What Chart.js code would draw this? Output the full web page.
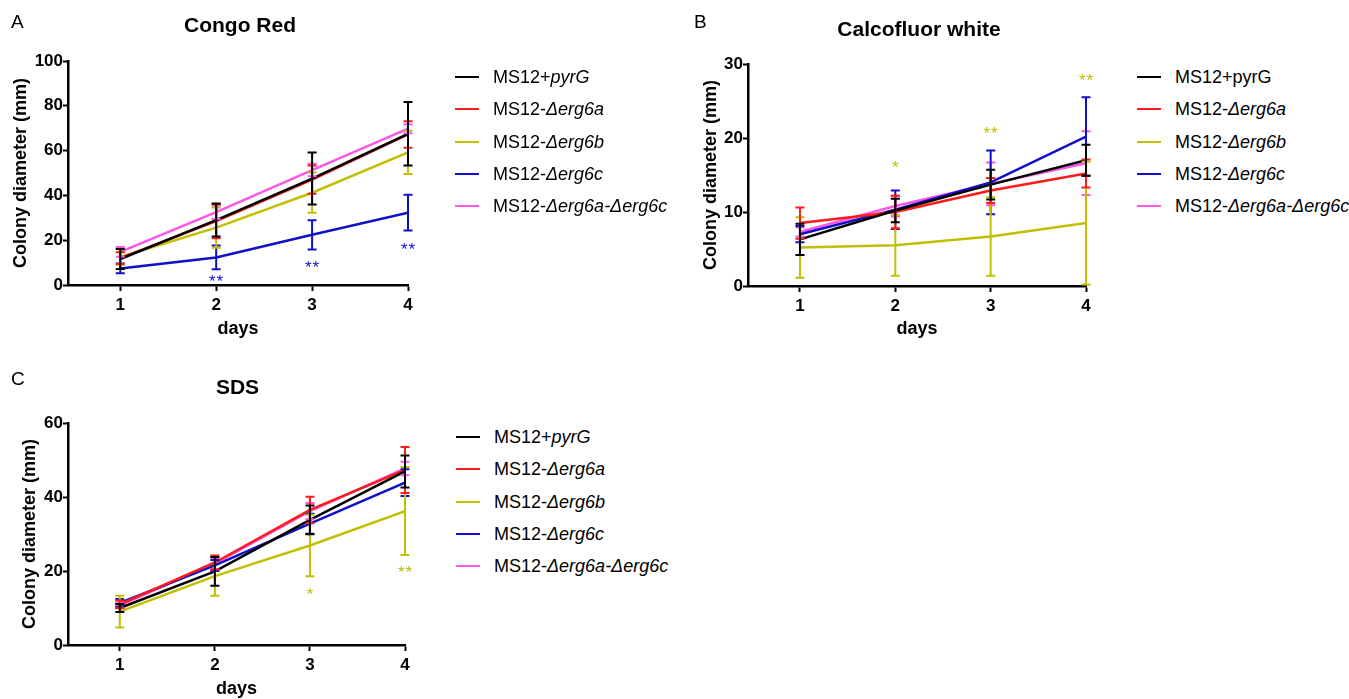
<!DOCTYPE html>
<html><head><meta charset="utf-8">
<script src="https://cdn.jsdelivr.net/npm/chart.js@4.4.1/dist/chart.umd.min.js"></script>
<style>
html,body{margin:0;padding:0;background:#fff;width:1349px;height:699px;overflow:hidden;position:relative;font-family:"Liberation Sans",Arial,sans-serif;}
canvas{position:absolute;}
.legend{position:absolute;width:240px;height:170px;}
.row{position:absolute;left:0;height:22px;line-height:22px;white-space:nowrap;font-size:18px;color:#000;}
.sw{position:absolute;left:0;top:10px;width:24px;height:2px;}
.txt{position:absolute;left:38px;top:0;}
</style></head><body>
<canvas id="cA" width="440" height="340" style="left:0;top:0"></canvas>
<canvas id="cB" width="440" height="340" style="left:680px;top:0"></canvas>
<canvas id="cC" width="440" height="330" style="left:0;top:370px"></canvas>
<div class="legend" id="lA" style="left:455px;top:66px"></div>
<div class="legend" id="lB" style="left:1137px;top:66px"></div>
<div class="legend" id="lC" style="left:456px;top:426px"></div>
<script>
// ---------- data ----------
const days = [1, 2, 3, 4];
const seriesColors = ['#000000', '#ff1a1a', '#c0c000', '#1010c8', '#ff55e6'];
const legendPrefixAC = ['MS12+', 'MS12-', 'MS12-', 'MS12-', 'MS12-'];
const legendItalicAC = ['pyrG', 'Δerg6a', 'Δerg6b', 'Δerg6c', 'Δerg6a-Δerg6c'];
const legendPrefixB = ['MS12+pyrG', 'MS12-', 'MS12-', 'MS12-', 'MS12-'];
const legendItalicB = ['', 'Δerg6a', 'Δerg6b', 'Δerg6c', 'Δerg6a-Δerg6c'];

// Congo Red
const crPyrG = [11.6, 29.0, 47.5, 67.5];  const crPyrGErr = [4.5, 7.4, 11.6, 14.2];
const crA    = [12.0, 28.5, 47.0, 67.2];  const crAErr    = [2.6, 7.6, 6.3, 5.9];
const crB    = [12.5, 25.6, 41.2, 59.2];  const crBErr    = [3.5, 9.0, 9.0, 9.7];
const crC    = [7.4, 12.3, 22.4, 32.3];   const crCErr    = [2.2, 5.3, 6.5, 8.0];
const crAC   = [14.8, 32.5, 51.3, 69.8];  const crACErr   = [2.2, 3.0, 2.8, 2.0];
const crSigDays = [2, 3, 4]; const crSigValues = [3.4, 9.7, 17.9]; const crSigText = ['**', '**', '**']; const crSigSeries = 3;

// Calcofluor white
const cwPyrG = [6.3, 10.2, 13.7, 17.0];   const cwPyrGErr = [2.1, 1.6, 2.0, 2.1];
const cwA    = [8.5, 10.0, 12.9, 15.2];   const cwAErr    = [2.1, 2.2, 1.7, 1.9];
const cwB    = [5.2, 5.5, 6.7, 8.5];      const cwBErr    = [4.1, 4.1, 5.3, 8.3];
const cwC    = [7.0, 10.3, 14.0, 20.2];   const cwCErr    = [1.1, 2.6, 4.3, 5.3];
const cwAC   = [7.3, 10.8, 13.8, 16.6];   const cwACErr   = [0.6, 1.4, 2.9, 4.3];
const cwSigDays = [2, 3, 4]; const cwSigValues = [16.6, 21.2, 28.3]; const cwSigText = ['*', '**', '**']; const cwSigSeries = 2;

// SDS
const sdsPyrG = [10.0, 19.9, 33.8, 46.9]; const sdsPyrGErr = [1.1, 3.9, 3.9, 4.3];
const sdsA    = [11.0, 22.3, 36.5, 47.3]; const sdsAErr    = [1.0, 1.9, 3.6, 6.2];
const sdsB    = [9.0, 18.6, 26.9, 36.2];  const sdsBErr    = [4.3, 5.3, 8.3, 11.9];
const sdsC    = [11.4, 21.5, 32.8, 43.9]; const sdsCErr    = [1.0, 1.5, 2.7, 3.6];
const sdsAC   = [10.7, 22.0, 36.2, 47.7]; const sdsACErr   = [0.8, 1.5, 2.2, 1.8];
const sdsSigDays = [3, 4]; const sdsSigValues = [14.7, 20.7]; const sdsSigText = ['*', '**']; const sdsSigSeries = 2;

// ---------- rendering ----------
const FONT = '"Liberation Sans", Arial, sans-serif';
Chart.defaults.font.family = FONT;
Chart.defaults.color = '#000';
const X_MIN = 0.455;

const errorBarPlugin = {
  id: 'errorBars',
  afterDatasetsDraw(chart) {
    const ctx = chart.ctx, xs = chart.scales.x, ys = chart.scales.y;
    const ds = chart.data.datasets;
    for (let i = ds.length - 1; i >= 0; i--) {
      const d = ds[i];
      if (!d.errors) continue;
      ctx.save();
      ctx.strokeStyle = d.borderColor;
      ctx.lineWidth = 2;
      d.data.forEach((p, j) => {
        const x = xs.getPixelForValue(p.x);
        const hi = ys.getPixelForValue(p.y + d.errors[j]);
        const lo = ys.getPixelForValue(Math.max(p.y - d.errors[j], ys.min));
        ctx.beginPath();
        ctx.moveTo(x, hi); ctx.lineTo(x, lo);
        ctx.moveTo(x - 4.5, hi); ctx.lineTo(x + 4.5, hi);
        ctx.moveTo(x - 4.5, lo); ctx.lineTo(x + 4.5, lo);
        ctx.stroke();
      });
      ctx.restore();
    }
  }
};

const sigPlugin = {
  id: 'sig',
  afterDraw(chart, args, o) {
    if (!o || !o.days) return;
    const ctx = chart.ctx, xs = chart.scales.x, ys = chart.scales.y;
    ctx.save();
    ctx.fillStyle = o.color;
    ctx.font = '17px ' + FONT;
    ctx.textAlign = 'center';
    ctx.textBaseline = 'alphabetic';
    o.days.forEach((d, k) => {
      const x = xs.getPixelForValue(d);
      const y = ys.getPixelForValue(o.values[k]) + 0.57 * 17;
      const chars = o.text[k].split('');
      const sp = 7.5;
      chars.forEach((c, m) => {
        ctx.fillText(c, x + (m - (chars.length - 1) / 2) * sp, y);
      });
    });
    ctx.restore();
  }
};

const decorPlugin = {
  id: 'decor',
  afterDraw(chart, args, o) {
    const ctx = chart.ctx, ca = chart.chartArea;
    ctx.save();
    ctx.fillStyle = '#000';
    ctx.textBaseline = 'alphabetic';
    ctx.font = '19px ' + FONT;
    ctx.textAlign = 'left';
    ctx.fillText(o.letter, o.letterX, o.letterY);
    ctx.font = 'bold 21px ' + FONT;
    ctx.textAlign = 'center';
    ctx.fillText(o.title, (ca.left + ca.right) / 2 + (o.titleDX || 0), o.titleY);
    ctx.restore();
  }
};

function makeChart(id, values, errs, yMax, yStep, pad, yWidth, xHeight, decor, sig) {
  const datasets = values.map((v, i) => ({
    data: v.map((y, j) => ({ x: days[j], y: y })),
    errors: errs[i],
    borderColor: seriesColors[i],
    backgroundColor: seriesColors[i],
    borderWidth: 2.5,
    pointRadius: 0,
    tension: 0,
    fill: false
  }));
  const axisBorder = { display: true, color: '#000', width: 2.5 };
  return new Chart(document.getElementById(id), {
    type: 'line',
    data: { datasets },
    plugins: [errorBarPlugin, sigPlugin, decorPlugin],
    options: {
      responsive: false,
      animation: false,
      devicePixelRatio: 1,
      events: [],
      layout: { padding: pad },
      plugins: {
        legend: { display: false },
        tooltip: { enabled: false },
        decor: decor,
        sig: sig
      },
      scales: {
        x: {
          type: 'linear', min: X_MIN, max: 4,
          afterBuildTicks: s => { s.ticks = days.map(v => ({ value: v })); },
          afterFit: s => { s.height = xHeight; },
          ticks: { color: '#000', font: { size: 17, weight: 'bold' }, padding: 4, autoSkip: false, maxRotation: 0, callback: v => String(v) },
          grid: { drawOnChartArea: false, drawTicks: true, tickLength: 6, tickWidth: 2, tickColor: '#000', color: '#000' },
          border: axisBorder,
          title: { display: true, text: 'days', color: '#000', font: { size: 18, weight: 'bold' }, padding: 0 }
        },
        y: {
          min: 0, max: yMax,
          afterFit: s => { s.width = yWidth; },
          ticks: { stepSize: yStep, color: '#000', font: { size: 17, weight: 'bold' }, padding: 0 },
          grid: { drawOnChartArea: false, drawTicks: true, tickLength: 5, tickWidth: 2, tickColor: '#000', color: '#000' },
          border: axisBorder,
          title: { display: true, text: 'Colony diameter (mm)', color: '#000', font: { size: 18, weight: 'bold' }, padding: 0 }
        }
      }
    }
  });
}

makeChart('cA',
  [crPyrG, crA, crB, crC, crAC], [crPyrGErr, crAErr, crBErr, crCErr, crACErr],
  100, 20, { top: 61, left: 10, right: 32, bottom: 0 }, 58, 55,
  { letter: 'A', letterX: 11, letterY: 28, title: 'Congo Red', titleY: 31.5, titleDX: 2 },
  { days: crSigDays, values: crSigValues, text: crSigText, color: seriesColors[crSigSeries] });

makeChart('cB',
  [cwPyrG, cwA, cwB, cwC, cwAC], [cwPyrGErr, cwAErr, cwBErr, cwCErr, cwACErr],
  30, 10, { top: 64, left: 20, right: 34, bottom: 0 }, 48, 54,
  { letter: 'B', letterX: 14, letterY: 28, title: 'Calcofluor white', titleY: 35.5, titleDX: 2 },
  { days: cwSigDays, values: cwSigValues, text: cwSigText, color: seriesColors[cwSigSeries] });

makeChart('cC',
  [sdsPyrG, sdsA, sdsB, sdsC, sdsAC], [sdsPyrGErr, sdsAErr, sdsBErr, sdsCErr, sdsACErr],
  60, 20, { top: 53, left: 19, right: 35, bottom: 0 }, 49, 55,
  { letter: 'C', letterX: 11, letterY: 15, title: 'SDS', titleY: 24, titleDX: 1 },
  { days: sdsSigDays, values: sdsSigValues, text: sdsSigText, color: seriesColors[sdsSigSeries] });

// ---------- HTML legends ----------
function buildLegend(id, prefixes, italics) {
  const box = document.getElementById(id);
  prefixes.forEach((p, i) => {
    const row = document.createElement('div');
    row.className = 'row';
    row.style.top = (i * 32.3) + 'px';
    const sw = document.createElement('span');
    sw.className = 'sw';
    sw.style.background = seriesColors[i];
    row.appendChild(sw);
    const t = document.createElement('span');
    t.className = 'txt';
    t.appendChild(document.createTextNode(p));
    if (italics[i]) {
      const it = document.createElement('i');
      it.textContent = italics[i];
      t.appendChild(it);
    }
    row.appendChild(t);
    box.appendChild(row);
  });
}
buildLegend('lA', legendPrefixAC, legendItalicAC);
buildLegend('lB', legendPrefixB, legendItalicB);
buildLegend('lC', legendPrefixAC, legendItalicAC);
</script>
</body></html>
